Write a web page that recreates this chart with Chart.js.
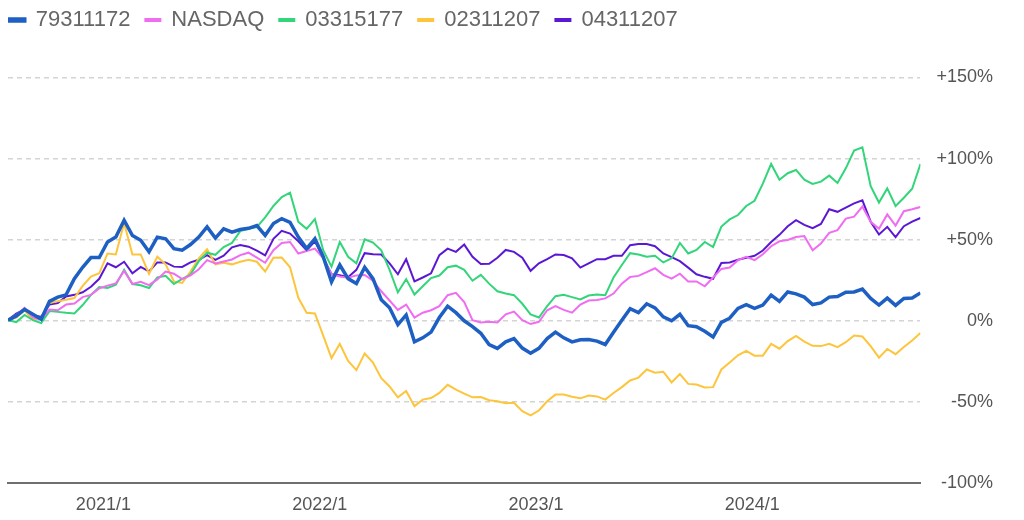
<!DOCTYPE html>
<html>
<head>
<meta charset="utf-8">
<script src="https://cdn.jsdelivr.net/npm/chart.js@4"></script>
<style>
    html, body { margin: 0; padding: 0; background: #fff; }
    #wrap { width: 1024px; height: 520px; position: relative; }
</style>
</head>
<body>
<div id="wrap"><canvas id="chart"></canvas></div>
<script>
// biweekly closes, first point 2020/7/24, last 2024/10/11
const startDate = Date.UTC(2020, 6, 24)
const stepDays = 14
const pointCount = 111
const yearTicks = ["2021-01-01", "2022-01-01", "2023-01-01", "2024-01-01"]
const yTicks = [-100, -50, 0, 50, 100, 150]

const names = ["79311172", "NASDAQ", "03315177", "02311207", "04311207"]
const colors = ["#1d5fc2", "#f06cf0", "#32d57a", "#fdc53c", "#5a18d4"]

const fund79311172 = [0.4, 3, 7, 4, 1, 12, 14.6, 16, 26, 33,
    39, 39, 48.6, 51.6, 62, 52.6, 49.6, 42.5, 51.6, 50.6,
    44.5, 43.5, 47, 51.6, 57.9, 51, 56.7, 54.6, 56.3, 57,
    58.7, 52.6, 60, 63, 60.7, 51.6, 44.5, 50.6, 39.5, 24,
    34.4, 26, 23, 33, 26, 13, 8, -2.4, 3.6, -13,
    -10.5, -7, 2, 9, 5, 0, -3.6, -7.7, -14.6, -17,
    -13, -11, -16.8, -20, -17, -11, -7, -10.5, -13, -11.7,
    -11.5, -12.5, -14.6, -7, 0.4, 7.5, 5, 10.5, 8, 2.4,
    0, 4, -3, -3.6, -6.5, -10, -1, 1.6, 7.7, 10,
    7.7, 9.7, 15.8, 12, 17.8, 16.6, 14.6, 10, 11, 14.6,
    15, 17.6, 17.8, 19.6, 13.8, 9.7, 14, 9.5, 13.8, 14, 17.2]

const nasdaq = [0.4, 3.6, 8, 2, 1, 7, 6.5, 10, 10.7, 14.6,
    16, 20, 21.7, 23, 30.8, 22.7, 24, 22, 25.5, 30.4,
    29, 25.7, 28, 31.8, 37.4, 35.4, 36.6, 37.8, 40.5, 42,
    39, 35.8, 43.5, 48, 48.6, 41.5, 43, 44.5, 38.5, 28.7,
    27.3, 26.5, 28, 28.3, 24.7, 18.2, 12.5, 6.7, 10, 2,
    5, 6.5, 9, 15.8, 17.2, 11.5, 0.4, -1, -0.6, -1,
    4, 5.7, 0.4, -2, -0.6, 6.5, 9, 6.7, 5, 10,
    12.5, 12.8, 13.8, 16.8, 22.9, 27, 27.7, 30, 32.4, 28.3,
    26, 29, 24.3, 24.3, 21.3, 26.7, 32, 32.8, 37.4, 39.5,
    37.4, 41, 46, 49, 49.8, 51.6, 52.2, 43.5, 47.6, 54.2,
    55.9, 63, 64.2, 70.4, 61, 56.7, 65.6, 58.7, 67.6, 68.8, 70.2]

const fund03315177 = [0.4, -0.8, 3.6, 0.4, -1.4, 6, 5.5, 4.9, 4.5, 9.7,
    16, 20.8, 20.2, 22.3, 31.4, 22.7, 21.9, 20.2, 26.7, 27.7,
    22.7, 25.9, 28.5, 36.8, 42, 40.7, 45.5, 48, 55.3, 56.7,
    57.7, 63.8, 70.8, 76.3, 79, 61, 56.7, 62.7, 43.5, 33.4,
    48.6, 39.5, 35.4, 50.2, 48.2, 43.5, 31.4, 17.6, 25.7, 16.2,
    21.3, 26.3, 27.9, 33, 34, 31.4, 24.7, 28.3, 22.9, 18.2,
    16.8, 15.8, 10.5, 4, 2, 9, 15.2, 16, 14.6, 13.2,
    15.6, 16.2, 15.8, 26.7, 34.4, 41.7, 40.9, 39.5, 40.1, 36,
    38.5, 48, 41.5, 43.7, 48.6, 45.5, 58.1, 62.5, 65.2, 70.8,
    74, 84.6, 96.7, 87, 91, 93, 87, 84.4, 85.8, 89.5,
    85, 94, 105, 107, 83, 72.9, 81.6, 70.8, 75.9, 81.4, 96.7]

const fund02311207 = [0.4, 2, 6.5, 0.6, 1.6, 11, 12, 13, 14, 21.5,
    27.3, 29.3, 41.5, 40.9, 60.3, 40.9, 40.9, 29, 39.5, 34.8,
    24.3, 23.3, 30.4, 38.5, 44.1, 34.8, 35.8, 34.8, 36.4, 37.6,
    36.4, 30.4, 38.9, 39, 33, 14.2, 5, 4.5, -9.1, -23,
    -14.2, -24.7, -30.4, -20.2, -25.7, -35.4, -40.5, -47.2, -43.3, -52.6,
    -48.6, -47.6, -44.5, -39.5, -42.5, -44.9, -47.2, -47, -49, -49.6,
    -50.8, -50.6, -55.7, -58.3, -55.3, -49.6, -45.5, -45.5, -46.8, -47.8,
    -46.1, -46.6, -48.6, -44.5, -40.9, -36.8, -35, -30, -32, -31.4,
    -38, -32.8, -38.9, -39.3, -41.1, -40.9, -30, -25.7, -21.3, -18.6,
    -21.5, -21.5, -14.2, -17.2, -12.5, -9.3, -12.8, -15.4, -15.6, -14.2,
    -16.2, -13.2, -9.1, -9.7, -15.6, -22.7, -17.4, -20.6, -16.2, -12.1, -7.5]

const fund04311207 = [0.4, 4.5, 7, 3.6, 2.4, 10, 11, 15, 16, 17.6,
    21, 25.9, 35.4, 33, 36.4, 29.3, 33.2, 30.4, 36, 36,
    33.4, 33.2, 36, 37.6, 40.5, 37.6, 40.1, 45.3, 46.7, 45.7,
    43.3, 40.3, 50.6, 55.5, 53.8, 49, 43.5, 49, 38.9, 28.7,
    28.1, 26.9, 31.4, 41.7, 41.1, 40.9, 35.4, 28.7, 38, 24.3,
    26.7, 29.3, 40.5, 44.5, 42.5, 47, 39.5, 35, 35.2, 38.9,
    43.7, 42.5, 38.9, 30.8, 35.4, 38, 40.9, 40.5, 38.5, 32.8,
    35.4, 38, 38, 40.1, 40.1, 46.6, 47.4, 47.4, 46, 41.5,
    39.3, 36.8, 32.8, 28.7, 27.1, 25.9, 35.6, 36, 37.6, 38.9,
    40.1, 43.3, 48.6, 53, 58.3, 62.1, 59.1, 57.1, 59.7, 68.8,
    67.2, 69.8, 72.4, 74.3, 61.1, 53.2, 57.9, 51.6, 58.3, 61.1, 63.4]

const seriesValues = [fund79311172, nasdaq, fund03315177, fund02311207, fund04311207]
const lineWidths = [3.5, 2, 2, 2, 2]

const dayMs = 864e5
const xTimes = Array.from({length: pointCount}, (_, i) => startDate + i * stepDays * dayMs)

const datasets = seriesValues.map((values, k) => ({
    label: names[k],
    data: values.map((v, i) => ({x: xTimes[i], y: v})),
    borderColor: colors[k],
    backgroundColor: colors[k],
    borderWidth: lineWidths[k],
    pointRadius: 0,
    pointHoverRadius: 0,
    tension: 0,
    fill: false,
}))

const font = {family: "'Liberation Sans', Arial, sans-serif"}

// pull the legend row up into the corner, independent of the plot top
const legendNudge = {
    id: "legendNudge",
    afterLayout(chart) {
        chart.legend.left = -5.25
        chart.legend.top = -6
    }
}

const ctx = document.querySelector("#chart")
new Chart(ctx, {
    type: "line",
    data: {datasets},
    plugins: [legendNudge],
    options: {
        responsive: true,
        maintainAspectRatio: false,
        animation: false,
        layout: {
            padding: {left: 8, right: 31, top: 30.5, bottom: 0}
        },
        scales: {
            x: {
                type: "linear",
                min: xTimes[0],
                max: xTimes[xTimes.length - 1],
                afterBuildTicks: (axis) => {
                    axis.ticks = yearTicks.map(d => ({value: Date.parse(d)}))
                },
                afterFit: (axis) => {
                    axis.height = 37
                },
                grid: {display: false, drawTicks: false},
                border: {display: true, color: "#6f6f6f", width: 2},
                ticks: {
                    autoSkip: false,
                    maxRotation: 0,
                    padding: 11,
                    color: "#555",
                    font: {...font, size: 18},
                    callback: (v) => `${new Date(v).getUTCFullYear()}/1`
                }
            },
            y: {
                position: "right",
                min: -100,
                max: 150,
                afterBuildTicks: (axis) => {
                    axis.ticks = yTicks.map(v => ({value: v}))
                },
                grid: {
                    color: "#d4d4d4",
                    lineWidth: 1.5,
                    drawTicks: false,
                },
                border: {display: false, dash: [5, 4]},
                ticks: {
                    crossAlign: "far",
                    padding: 8,
                    color: "#555",
                    font: {...font, size: 18},
                    callback: (v) => v > 0 ? `+${v}%` : `${v}%`
                }
            }
        },
        plugins: {
            legend: {
                position: "top",
                align: "start",
                labels: {
                    boxWidth: 15,
                    boxHeight: 2,
                    padding: 15,
                    color: "#666",
                    font: {...font, size: 22},
                }
            },
            tooltip: {enabled: false}
        }
    }
})
</script>
</body>
</html>
